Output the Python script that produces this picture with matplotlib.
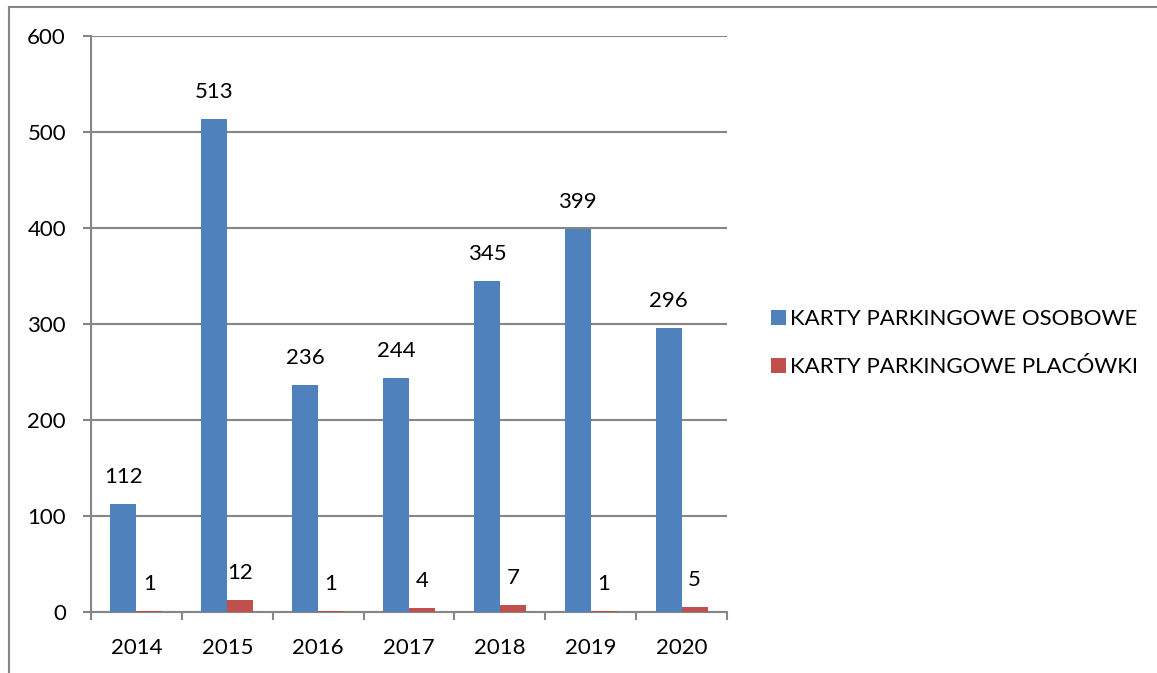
import numpy as np
import matplotlib.pyplot as plt
from matplotlib.lines import Line2D

plt.rcParams["font.family"] = ["Lato", "DejaVu Sans"]

# data
YEARS = ["2014", "2015", "2016", "2017", "2018", "2019", "2020"]
OSOBOWE = [112, 513, 236, 244, 345, 399, 296]
PLACOWKI = [1, 12, 1, 4, 7, 1, 5]
SERIES_NAMES = ["KARTY PARKINGOWE OSOBOWE", "KARTY PARKINGOWE PLACÓWKI"]

BLUE = "#4F81BD"
RED = "#C0504D"
GRAY = "#868686"
FS = 16

fig = plt.figure(figsize=(11.57, 6.73), dpi=100)
ax = fig.add_axes([91 / 1157, 1 - 611.7 / 673, (727 - 91) / 1157, (611.7 - 36) / 673])

x = np.arange(len(YEARS))
w = 1 / 3.5
b1 = ax.bar(x - w / 2, OSOBOWE, width=w, color=BLUE, label=SERIES_NAMES[0], zorder=3)
b2 = ax.bar(x + w / 2, PLACOWKI, width=w, color=RED, label=SERIES_NAMES[1], zorder=3)

for bars, vals in [(b1, OSOBOWE), (b2, PLACOWKI)]:
    for rect, v in zip(bars, vals):
        ax.annotate(str(v), (rect.get_x() + rect.get_width() / 2, v),
                    xytext=(0, 27), textcoords="offset pixels",
                    ha="center", va="center", fontsize=FS)

ax.set_xlim(-0.5, len(YEARS) - 0.5)
ax.set_ylim(0, 600)
ax.set_yticks(range(0, 601, 100))
ax.yaxis.grid(True, color=GRAY, linewidth=1.5, zorder=0)
ax.set_axisbelow(True)

# boundary ticks on the x axis, labels in the middle
ax.set_xticks(np.arange(-0.5, len(YEARS), 1))
ax.set_xticklabels([])
ax.set_xticks(x, minor=True)
ax.set_xticklabels(YEARS, minor=True, fontsize=FS)
ax.tick_params(axis="x", which="major", length=6, width=1.5, color=GRAY, direction="out")
ax.tick_params(axis="x", which="minor", length=0, pad=19)
ax.tick_params(axis="y", length=6, width=1.5, color=GRAY, labelsize=FS, pad=12)

for s in ["top", "right"]:
    ax.spines[s].set_visible(False)
for s in ["left", "bottom"]:
    ax.spines[s].set_color(GRAY)
    ax.spines[s].set_linewidth(1.5)

fig.legend(handles=[b1, b2], loc="center left",
           bbox_to_anchor=(760 / 1157, 1 - 343 / 673),
           frameon=False, fontsize=FS, handlelength=0.65, handleheight=0.65,
           handletextpad=0.2, labelspacing=1.25, borderpad=0)

# outer chart frame (left and top edges)
fig.add_artist(Line2D([9 / 1157, 9 / 1157], [0, 1 - 6.5 / 673], color=GRAY, linewidth=1.5))
fig.add_artist(Line2D([9 / 1157, 1], [1 - 6.5 / 673, 1 - 6.5 / 673], color=GRAY, linewidth=1.5))

fig.savefig("out.png", dpi=100)
